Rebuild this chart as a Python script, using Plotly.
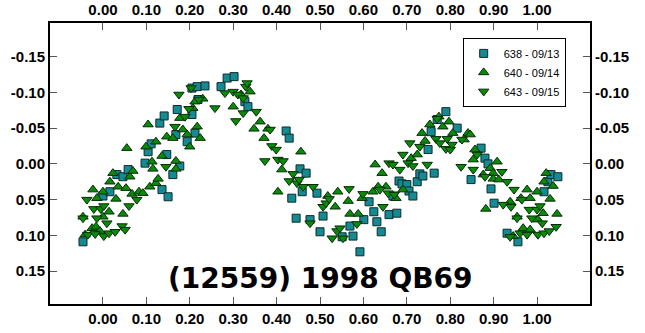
import plotly.graph_objects as go

# ---- data (phase, magnitude) ----
sq_x = [-0.046, 0.000, 0.016, 0.032, 0.046, 0.058, 0.097, 0.104, 0.111, 0.131, 0.141, 0.136, 0.150, 0.147,
        0.161, 0.168, 0.171, 0.177, 0.194, 0.205, 0.212, 0.205, 0.217, 0.235, 0.219, 0.272, 0.286, 0.302,
        0.327, 0.334, 0.422, 0.429, 0.454, 0.468, 0.459, 0.493, 0.435, 0.445, 0.477, 0.507, 0.500, 0.551,
        0.576, 0.569, 0.601, 0.613, 0.592, 0.624, 0.631, 0.641, 0.659, 0.677, 0.668, 0.682, 0.689, 0.700,
        0.705, 0.714, 0.724, 0.730, 0.737, 0.763, 0.749, 0.756, 0.770, 0.790, 0.816, 0.848, 0.871, 0.880,
        0.887, 0.894, 0.901, 0.931, 0.956, 1.016, 1.025, 1.032, 1.048]
sq_y = [0.109, 0.045, 0.039, 0.015, 0.018, 0.008, -0.001, -0.017, -0.028, -0.057, -0.067, 0.036, 0.046, -0.013,
        0.015, -0.041, -0.076, 0.003, -0.031, -0.069, -0.043, -0.106, -0.108, -0.109, -0.090, -0.108, -0.120, -0.122,
        -0.087, -0.080, -0.046, -0.036, 0.007, 0.013, 0.039, 0.041, 0.048, 0.076, 0.078, 0.073, 0.095, 0.102,
        0.101, 0.087, 0.078, 0.053, 0.123, 0.067, 0.081, 0.095, 0.071, 0.069, 0.045, 0.024, 0.028, 0.029,
        0.038, 0.045, 0.025, 0.014, 0.017, 0.013, -0.020, -0.045, -0.062, -0.073, -0.050, 0.022, -0.022, -0.008,
        0.000, 0.035, 0.055, 0.097, 0.109, 0.039, 0.025, 0.015, 0.018]

up_x = [-0.046, -0.041, -0.025, -0.023, -0.016, -0.014, -0.007, 0.000, 0.000, 0.014, 0.016, 0.023, 0.030,
        0.035, 0.046, 0.053, 0.055, 0.062, 0.067, 0.069, 0.083, 0.092, 0.099, 0.104, 0.108, 0.113, 0.115,
        0.122, 0.122, 0.127, 0.136, 0.147, 0.161, 0.168, 0.168, 0.177, 0.184, 0.194, 0.200, 0.207, 0.212,
        0.217, 0.224, 0.230, 0.300, 0.318, 0.339, 0.348, 0.362, 0.371, 0.380, 0.403, 0.412, 0.456, 0.518,
        0.535, 0.541, 0.565, 0.569, 0.588, 0.597, 0.622, 0.627, 0.634, 0.643, 0.652, 0.675, 0.691, 0.710,
        0.724, 0.735, 0.742, 0.753, 0.774, 0.783, 0.797, 0.806, 0.832, 0.841, 0.846, 0.857, 0.853, 0.876,
        0.882, 0.892, 0.899, 0.899, 0.908, 0.912, 0.938, 0.945, 0.954, 0.963, 0.968, 0.977, 0.984, 0.984,
        1.000, 1.002, 1.014, 1.016, 1.021, 1.030, 1.037, 1.046]
up_y = [0.074, 0.099, 0.090, 0.036, 0.088, 0.048, 0.094, 0.039, 0.074, 0.067, 0.025, 0.013, 0.049,
        0.032, 0.070, 0.034, -0.022, 0.018, 0.042, 0.010, 0.039, 0.041, -0.024, -0.055, 0.032, -0.003, 0.007,
        -0.031, 0.027, 0.021, -0.011, -0.038, -0.036, -0.004, 0.007, -0.064, -0.048, -0.041, -0.024, -0.078, -0.087,
        -0.052, -0.036, -0.091, -0.080, -0.097, -0.101, -0.049, -0.059, -0.036, -0.049, 0.039, 0.008, -0.017, 0.045,
        0.060, 0.039, 0.052, 0.070, 0.070, 0.048, 0.039, 0.001, 0.032, 0.013, 0.032, 0.048, 0.036, -0.008,
        -0.013, -0.043, -0.032, -0.055, -0.066, -0.052, -0.059, -0.043, -0.034, -0.043, -0.041, -0.020, -0.006, 0.015,
        0.063, 0.006, 0.013, 0.021, -0.003, 0.022, 0.053, 0.101, 0.074, 0.048, 0.090, 0.036, 0.048, 0.092,
        0.039, 0.078, 0.069, 0.025, 0.013, 0.049, 0.031, 0.070]

dn_x = [-0.046, -0.037, -0.035, -0.021, -0.018, -0.014, -0.005, 0.002, 0.002, 0.009, 0.014, 0.028, 0.044,
        0.051, 0.060, 0.078, 0.145, 0.166, 0.175, 0.189, 0.198, 0.203, 0.221, 0.258, 0.281, 0.300, 0.306,
        0.311, 0.323, 0.323, 0.329, 0.332, 0.353, 0.373, 0.385, 0.389, 0.399, 0.403, 0.415, 0.429, 0.438,
        0.447, 0.452, 0.461, 0.477, 0.484, 0.507, 0.514, 0.521, 0.528, 0.539, 0.546, 0.553, 0.567, 0.585,
        0.599, 0.638, 0.645, 0.657, 0.659, 0.668, 0.671, 0.684, 0.691, 0.703, 0.707, 0.714, 0.730, 0.747,
        0.767, 0.770, 0.776, 0.790, 0.793, 0.800, 0.804, 0.825, 0.827, 0.853, 0.862, 0.880, 0.919, 0.922,
        0.931, 0.938, 0.940, 0.947, 0.954, 0.961, 0.965, 0.977, 0.982, 0.988, 1.000, 1.002, 1.007, 1.012,
        1.016, 1.028, 1.044]
dn_y = [0.076, 0.050, 0.099, 0.063, 0.098, 0.076, 0.063, 0.059, 0.101, 0.083, 0.097, 0.095, 0.087,
        0.092, 0.059, 0.050, 0.004, -0.052, -0.097, -0.066, -0.077, -0.106, -0.090, -0.078, -0.099, -0.101, -0.060,
        -0.097, -0.092, -0.071, -0.108, -0.113, -0.073, -0.004, -0.048, -0.025, -0.020, -0.006, -0.004, 0.024, 0.014,
        0.027, 0.022, 0.032, 0.083, 0.032, 0.060, 0.055, 0.049, 0.104, 0.094, 0.090, 0.104, 0.035, 0.084,
        0.042, 0.036, 0.060, 0.041, -0.001, 0.001, 0.043, 0.008, -0.013, -0.001, -0.029, 0.003, -0.024, 0.001,
        -0.035, -0.063, -0.029, -0.021, -0.035, -0.020, -0.027, 0.004, -0.034, 0.008, -0.013, 0.018, 0.011, 0.057,
        0.025, 0.102, 0.060, 0.036, 0.076, 0.097, 0.050, 0.099, 0.064, 0.076, 0.064, 0.099, 0.059, 0.083,
        0.097, 0.094, 0.088]

tick_vals = [0.0, 0.1, 0.2, 0.3, 0.4, 0.5, 0.6, 0.7, 0.8, 0.9, 1.0]
tick_text = ["0.00", "0.10", "0.20", "0.30", "0.40", "0.50", "0.60", "0.70", "0.80", "0.90", "1.00"]
ytick_vals = [-0.15, -0.10, -0.05, 0.0, 0.05, 0.10, 0.15]
ytick_text = ["-0.15", "-0.10", "-0.05", "0.00", "0.05", "0.10", "0.15"]
series_names = ["638 - 09/13", "640 - 09/14", "643 - 09/15"]
title_text = "(12559) 1998 QB69"

X_RANGE = [-0.122, 1.122]
Y_RANGE = [0.196, -0.197]

TEAL = "#168a93"
GREEN = "#0a8a0a"

fig = go.Figure()
fig.add_trace(go.Scatter(x=sq_x, y=sq_y, mode="markers", name=series_names[0],
                         marker=dict(symbol="square", size=8, color=TEAL,
                                     line=dict(color="#0b2b2b", width=1))))
fig.add_trace(go.Scatter(x=up_x, y=up_y, mode="markers", name=series_names[1],
                         marker=dict(symbol="triangle-up", size=9, color=GREEN,
                                     line=dict(color="#062b06", width=1))))
fig.add_trace(go.Scatter(x=dn_x, y=dn_y, mode="markers", name=series_names[2],
                         marker=dict(symbol="triangle-down", size=9, color=GREEN,
                                     line=dict(color="#062b06", width=1))))
# invisible copy to activate the mirrored (top/right) labelled axes
fig.add_trace(go.Scatter(x=sq_x, y=sq_y, mode="markers", xaxis="x2", yaxis="y2",
                         showlegend=False, hoverinfo="skip",
                         marker=dict(opacity=0)))

tickfont = dict(family="Arial, Liberation Sans, sans-serif", size=15, color="black", weight="bold")
common = dict(showgrid=False, zeroline=False, ticks="inside", ticklen=7, tickwidth=1,
              tickcolor="#555555", showline=True, linecolor="black", linewidth=2,
              tickfont=tickfont, automargin=False)

fig.update_layout(
    width=645, height=333,
    margin=dict(l=50, r=55, t=23, b=29, autoexpand=False),
    paper_bgcolor="white", plot_bgcolor="white",
    showlegend=True,
    xaxis=dict(range=X_RANGE, tickvals=tick_vals, ticktext=tick_text, side="bottom", **common),
    yaxis=dict(range=Y_RANGE, tickvals=ytick_vals, ticktext=ytick_text, side="left", **common),
    xaxis2=dict(range=X_RANGE, tickvals=tick_vals, ticktext=tick_text, side="top",
                overlaying="x", **common),
    yaxis2=dict(range=Y_RANGE, tickvals=ytick_vals, ticktext=ytick_text, side="right",
                overlaying="y", **common),
    legend=dict(x=0.955, y=0.947, xanchor="right", yanchor="top",
                bgcolor="white", bordercolor="black", borderwidth=1,
                font=dict(family="Arial, Liberation Sans, sans-serif", size=11, color="black"),
                tracegroupgap=0, itemwidth=30),
    annotations=[dict(text=title_text, xref="paper", yref="paper", x=0.5, y=0.092,
                      xanchor="center", yanchor="middle", showarrow=False,
                      font=dict(family="DejaVu Sans, sans-serif", size=28, color="black",
                                weight="bold"))],
)

fig.write_html("out.html", config={"displayModeBar": False},
               post_script="document.body.style.margin='0';document.body.style.overflow='hidden';")
